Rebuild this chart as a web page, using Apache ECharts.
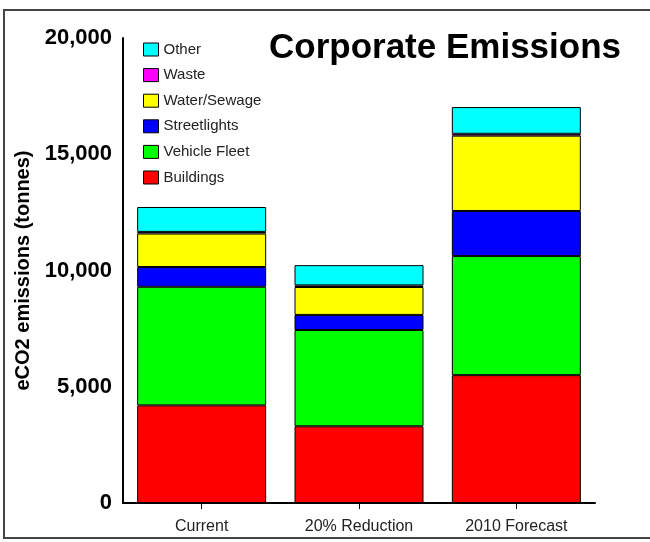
<!DOCTYPE html>
<html>
<head>
<meta charset="utf-8">
<script src="https://cdn.jsdelivr.net/npm/echarts@6/dist/echarts.min.js"></script>
<style>
  html, body { margin: 0; padding: 0; background: #fff; }
  #chart { width: 650px; height: 542px; }
</style>
</head>
<body>
<div id="chart"></div>
<script>
// Scenario categories on the x axis
const categories = ['Current', '20% Reduction', '2010 Forecast'];

// Emissions by sector, tonnes eCO2 (stacked bottom to top)
const buildings    = [4200, 3300, 5500];
const vehicleFleet = [5100, 4140, 5120];
const streetlights = [850, 650, 1940];
const waterSewage  = [1440, 1200, 3240];
const waste        = [70, 70, 80];
const other        = [1070, 870, 1150];

// Y axis ticks
const yTicks = [0, 5000, 10000, 15000, 20000];

const seriesDefs = [
  { name: 'Buildings',    data: buildings,    color: '#ff0000' },
  { name: 'Vehicle Fleet', data: vehicleFleet, color: '#00ff00' },
  { name: 'Streetlights', data: streetlights, color: '#0000ff' },
  { name: 'Water/Sewage', data: waterSewage,  color: '#ffff00' },
  { name: 'Waste',        data: waste,        color: '#ff00ff' },
  { name: 'Other',        data: other,        color: '#00ffff' }
];

const chart = echarts.init(document.getElementById('chart'), null, { renderer: 'canvas' });

chart.setOption({
  animation: false,
  backgroundColor: '#fff',
  title: {
    text: 'Corporate Emissions',
    left: 440,
    top: 26,
    textAlign: 'center',
    textStyle: { fontFamily: 'Liberation Sans', fontWeight: 'bold', fontSize: 35, color: '#000' }
  },
  legend: {
    orient: 'vertical',
    left: 138,
    top: 37,
    itemWidth: 15,
    itemHeight: 13,
    itemGap: 10.6,
    itemTextGap: 10,
    icon: 'rect',
    data: seriesDefs.slice().reverse().map(s => s.name),
    textStyle: { fontFamily: 'Liberation Sans', fontSize: 15, color: '#222' },
    itemStyle: { borderColor: '#000', borderWidth: 1 }
  },
  grid: { left: 123, right: 55, top: 38, bottom: 39, containLabel: false },
  xAxis: {
    type: 'category',
    data: categories,
    axisLine: { lineStyle: { color: '#000', width: 2 } },
    axisTick: { show: true, alignWithLabel: true, length: 6, lineStyle: { color: '#000', width: 1 } },
    axisLabel: { fontFamily: 'Liberation Sans', fontSize: 16, color: '#222', margin: 16 }
  },
  yAxis: {
    type: 'value',
    min: yTicks[0],
    max: yTicks[yTicks.length - 1],
    interval: yTicks[1] - yTicks[0],
    name: 'eCO2 emissions (tonnes)',
    nameLocation: 'middle',
    nameGap: 90,
    nameRotate: 90,
    nameTextStyle: { fontFamily: 'Liberation Sans', fontWeight: 'bold', fontSize: 20, color: '#000' },
    axisLine: { show: true, lineStyle: { color: '#000', width: 2 } },
    axisTick: { show: false },
    splitLine: { show: false },
    axisLabel: {
      fontFamily: 'Liberation Sans', fontWeight: 'bold', fontSize: 22, color: '#000', margin: 11,
      formatter: v => v.toLocaleString('en-US')
    }
  },
  graphic: [{
    type: 'rect',
    shape: { x: 4, y: 10, width: 660, height: 528 },
    style: { fill: 'none', stroke: '#444', lineWidth: 2 },
    silent: true,
    z: 100
  }],
  series: seriesDefs.map(s => ({
    name: s.name,
    type: 'bar',
    stack: 'total',
    data: s.data,
    barWidth: 129,
    itemStyle: { color: s.color, borderColor: '#000', borderWidth: 1 }
  }))
});
</script>
</body>
</html>
